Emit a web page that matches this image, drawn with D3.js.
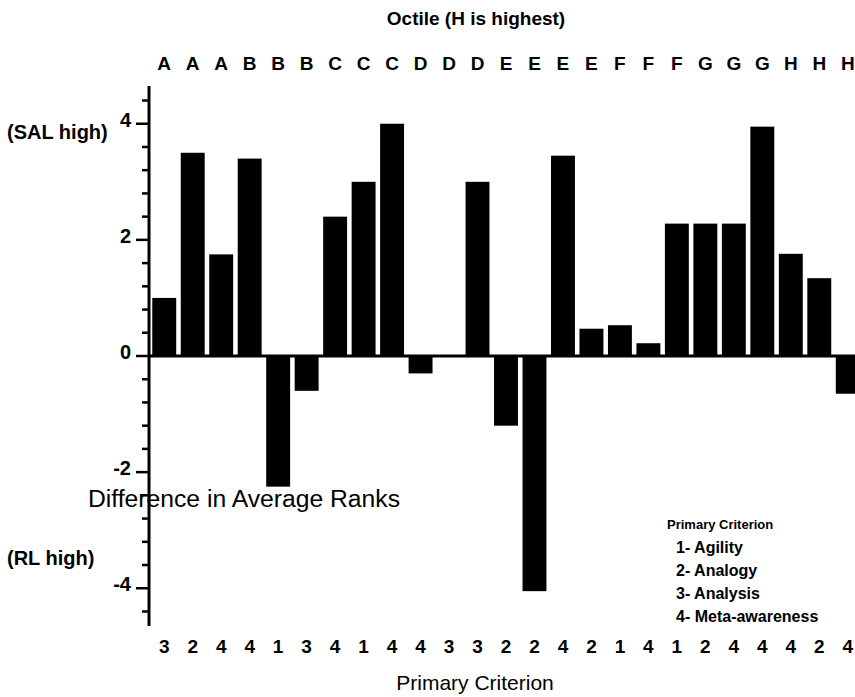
<!DOCTYPE html>
<html>
<head>
<meta charset="utf-8">
<script src="https://cdn.jsdelivr.net/npm/d3@7"></script>
<style>
  body { margin: 0; background: #fff; }
  svg text { font-family: Arial, "Liberation Sans", sans-serif; fill: #000; }
</style>
</head>
<body>
<div id="chart"></div>
<script>
// values, one per bar
const octiles = ['A', 'A', 'A', 'B', 'B', 'B', 'C', 'C', 'C', 'D', 'D', 'D',
  'E', 'E', 'E', 'E', 'F', 'F', 'F', 'G', 'G', 'G', 'H', 'H', 'H'];
const criteria = [3, 2, 4, 4, 1, 3, 4, 1, 4, 4, 3, 3, 2, 2, 4, 2, 1, 4, 1, 2, 4, 4, 4, 2, 4];
const diffs = [1.0, 3.5, 1.75, 3.4, -2.25, -0.6, 2.4, 3.0, 4.0, -0.3, 0, 3.0,
  -1.2, -4.05, 3.45, 0.47, 0.53, 0.22, 2.28, 2.28, 2.28, 3.95, 1.76, 1.34, -0.65];
const yTicks = [-4, -2, 0, 2, 4];
const legendItems = ['1- Agility', '2- Analogy', '3- Analysis', '4- Meta-awareness'];

const width = 855, height = 697;

const svg = d3.select('#chart').append('svg')
  .attr('width', width)
  .attr('height', height);

const x = d3.scaleBand()
  .domain(d3.range(diffs.length))
  .range([150, 862])
  .paddingInner(0.16)
  .paddingOuter(0.08);

const y = d3.scaleLinear()
  .domain([-4.65, 4.65])
  .range([626, 86]);

// bars
svg.append('g')
  .selectAll('rect')
  .data(diffs)
  .enter()
  .append('rect')
  .attr('x', (d, i) => x(i))
  .attr('width', x.bandwidth())
  .attr('y', d => y(Math.max(0, d)))
  .attr('height', d => Math.abs(y(d) - y(0)))
  .attr('fill', '#000');

// zero line
svg.append('line')
  .attr('x1', 149).attr('x2', width)
  .attr('y1', y(0)).attr('y2', y(0))
  .attr('stroke', '#000')
  .attr('stroke-width', 3);

// y axis: major ticks every 2, minor every 0.4
const yAxis = svg.append('g').attr('transform', 'translate(149,0)');
yAxis.append('line')
  .attr('y1', y.range()[1]).attr('y2', y.range()[0])
  .attr('stroke', '#000').attr('stroke-width', 3);

const minor = d3.range(-44, 45, 4).map(v => v / 10).filter(v => v % 2 !== 0);
yAxis.selectAll('.minor')
  .data(minor)
  .enter()
  .append('line')
  .attr('class', 'minor')
  .attr('x1', -7).attr('x2', 0)
  .attr('y1', d => y(d)).attr('y2', d => y(d))
  .attr('stroke', '#000').attr('stroke-width', 2.5);

yAxis.selectAll('.major')
  .data(yTicks)
  .enter()
  .append('line')
  .attr('class', 'major')
  .attr('x1', -13).attr('x2', 0)
  .attr('y1', d => y(d)).attr('y2', d => y(d))
  .attr('stroke', '#000').attr('stroke-width', 2.5);

yAxis.selectAll('.tlabel')
  .data(yTicks)
  .enter()
  .append('text')
  .attr('x', -18)
  .attr('y', d => y(d) + 3)
  .attr('text-anchor', 'end')
  .style('font-size', '20px')
  .style('font-weight', 'bold')
  .text(d => d);

// octile letters across the top
svg.append('g')
  .selectAll('text')
  .data(octiles)
  .enter()
  .append('text')
  .attr('x', (d, i) => x(i) + x.bandwidth() / 2)
  .attr('y', 70)
  .attr('text-anchor', 'middle')
  .style('font-size', '19px')
  .style('font-weight', 'bold')
  .text(d => d);

// primary criterion numbers along the bottom
svg.append('g')
  .selectAll('text')
  .data(criteria)
  .enter()
  .append('text')
  .attr('x', (d, i) => x(i) + x.bandwidth() / 2)
  .attr('y', 653)
  .attr('text-anchor', 'middle')
  .style('font-size', '19px')
  .style('font-weight', 'bold')
  .text(d => d);

svg.append('text')
  .attr('x', 476).attr('y', 25)
  .attr('text-anchor', 'middle')
  .style('font-size', '19px')
  .style('font-weight', 'bold')
  .text('Octile (H is highest)');

svg.append('text')
  .attr('x', 475).attr('y', 690)
  .attr('text-anchor', 'middle')
  .style('font-size', '21px')
  .text('Primary Criterion');

svg.append('text')
  .attr('x', 88).attr('y', 507)
  .style('font-size', '24.7px')
  .text('Difference in Average Ranks');

svg.append('text')
  .attr('x', 7).attr('y', 139)
  .style('font-size', '20px')
  .style('font-weight', 'bold')
  .text('(SAL high)');

svg.append('text')
  .attr('x', 7).attr('y', 565)
  .style('font-size', '20px')
  .style('font-weight', 'bold')
  .text('(RL high)');

// legend text
const legend = svg.append('g');
legend.append('text')
  .attr('x', 667).attr('y', 529)
  .style('font-size', '13px')
  .style('font-weight', 'bold')
  .text('Primary Criterion');
legend.selectAll('.item')
  .data(legendItems)
  .enter()
  .append('text')
  .attr('class', 'item')
  .attr('x', 676)
  .attr('y', (d, i) => 553 + i * 23)
  .style('font-size', '16px')
  .style('font-weight', 'bold')
  .text(d => d);
</script>
</body>
</html>
